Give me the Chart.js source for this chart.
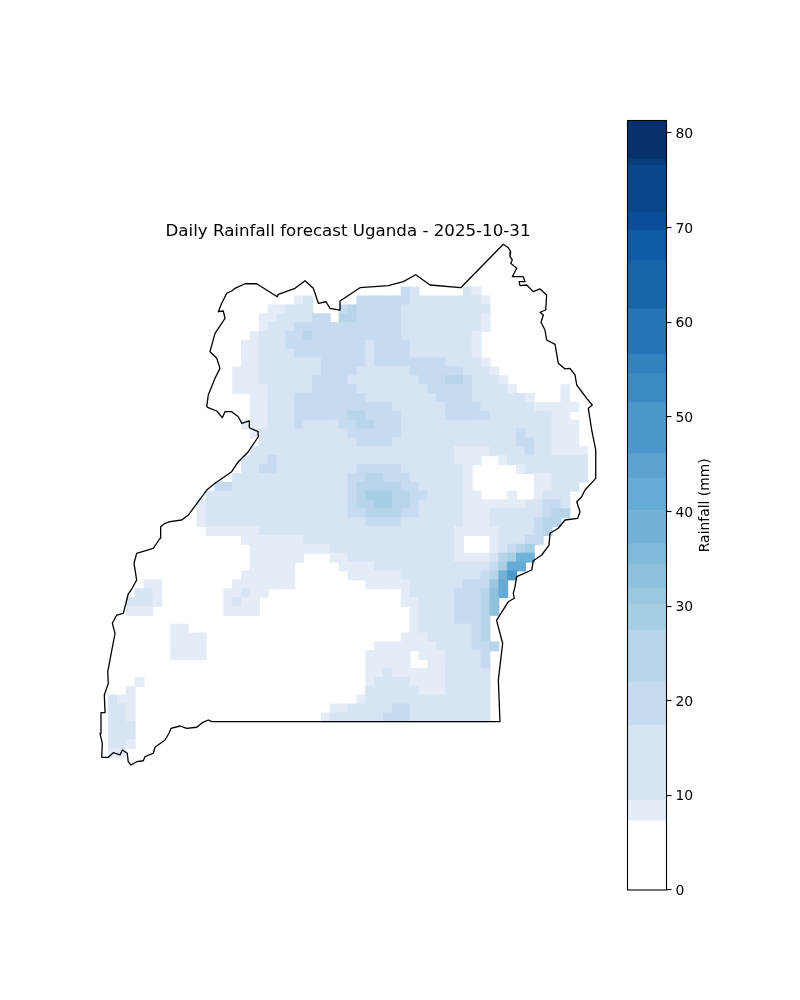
<!DOCTYPE html>
<html>
<head>
<meta charset="utf-8">
<script src="https://cdn.jsdelivr.net/npm/chart.js@4"></script>
<style>
html,body{margin:0;padding:0;background:#fff;width:800px;height:1000px;overflow:hidden}
canvas{position:absolute;display:block}
</style>
</head>
<body>
<canvas id="map" width="516" height="570" style="left:90px;top:220px;width:516px;height:570px"></canvas>
<canvas id="bar" width="140" height="810" style="left:600px;top:100px;width:140px;height:810px"></canvas>
<script>
const chartTitle = "Daily Rainfall forecast Uganda - 2025-10-31";
const colorbarLabel = "Rainfall (mm)";
const colorbarTicks = [0,10,20,30,40,50,60,70,80];

const levelEdges = [0,7.3,9.5,17.4,22,27.4,30.2,31.9,34.4,36.6,40.1,43.5,46.1,51.5,54.6,56.6,61.4,66.5,69.7,71.6,76.6,77.2,81.3];
const levelColors = ["#ffffff","#e3ecf7","#d6e4f3","#c6dbef","#b8d4e9","#a6cfe4","#9ac8e0","#8fc1dd","#80b9da","#72b2d9","#66abd6","#5ca3d2","#4c98ca","#3b8ac2","#3282be","#2574b7","#1865ac","#0f5aa4","#084e98","#08468b","#083c7a","#08306b"];

// Grid geometry (degrees) of the rainfall cells
const gridLon0 = 29.644, gridLat0 = 3.727, gridStep = 0.09856;

// Rainfall per grid row, north to south: "firstCol-lastCol:mm" runs; unlisted cells are below the first level
const rainRows = [
"33:20 34:13 40:13 41:8",
"21:8 22:13 28-33:20 34-41:13 42:8",
"18-19:8 20-22:13 26:20 27:25 28-32:20 33-42:13",
"17-18:8 19-22:13 23-24:20 26-27:25 28-32:20 33-41:13 42:8",
"17:8 18-20:13 21-32:20 33-41:13 42:8",
"16:8 17-19:13 20-21:20 22:25 23-32:20 33-40:13 41:8",
"15-16:8 17-19:13 20-28:20 29:13 30-33:20 34-40:13 41:8",
"15-16:8 17-20:13 21-28:20 29:13 30-33:20 34-40:13 41:8",
"15-16:8 17-23:13 24-28:20 29:13 30-37:20 38-41:13 42:8",
"14-16:8 17-23:13 24-27:20 28-33:13 34-39:20 40-42:13 43:8",
"14-16:8 17-22:13 23-26:20 27-34:13 35-37:20 38-39:25 40:20 41-43:13 44:8",
"14-17:8 18-22:13 23-27:20 28-35:13 36-40:20 41-44:13 45:8 51:8",
"16-17:8 18-20:13 21-28:20 29-36:13 37-40:20 41-46:13 47:8 51:8",
"16-17:8 18-20:13 21-31:20 32-37:13 38-41:20 42-47:13 48-52:8",
"16-17:8 18-20:13 21-26:20 27-28:25 29-32:20 33-37:13 38-42:20 43-49:13 50-51:8",
"15-17:8 18-20:13 21:20 22-25:13 26-27:20 28-29:25 30-32:20 33-49:13 50-52:8",
"16:8 17-26:13 27-32:20 33-45:13 46:20 47-49:13 50-52:8",
"17-27:13 28-31:20 32-45:13 46-47:20 48-49:13 50-52:8",
"16-38:13 39-42:8 43-46:13 47:20 48-49:13 50-53:8",
"15-17:13 18:20 19-38:13 39-41:8 44:8 45-53:13",
"15-16:13 17-18:20 19-27:13 28-32:20 33-39:13 40:8 46:8 47-53:13",
"14-26:13 27-28:20 29-30:25 31-33:20 34-39:13 40:8 48-49:8 50-53:13",
"12-13:20 14-26:13 27:20 28-32:25 33-34:20 35-39:13 40:8 48-49:8 50-52:13",
"11-26:13 27:20 28:25 29-31:29 32-33:25 34-35:20 36-39:13 40-41:8 45:8 48:8 49-51:13",
"10:8 11-26:13 27:20 28-29:25 30-31:29 32-33:25 34:20 35-39:13 40-46:8 47-48:13 49-50:20 51:13",
"10:8 11-26:13 27-28:20 29-32:25 33-34:20 35-39:13 40-42:8 43-48:13 49:20 50-51:25",
"10:8 11-28:13 29-32:20 33-39:13 40-42:8 43-47:13 48:20 49-50:25",
"11-16:8 17-38:13 39-43:8 44-47:13 48:20 49:25",
"15-21:8 22-38:13 39:8 43:8 44-46:13 47-48:20",
"16-24:8 25-38:13 39:8 43:8 44:13 45:20 46:25 47:29",
"16-21:8 25-26:8 27-38:13 39-42:8 43:13 44:25 45:29 46-47:38",
"16-20:8 26-29:8 30-42:13 43:20 44:29 45-46:42",
"15-20:8 27-32:8 33-41:13 42:20 43:25 44:38 45:49",
"4-5:8 14-20:8 29-33:8 34-39:13 40-42:20 43:31 44:42",
"3-4:13 5:8 13-14:8 15:13 16-17:8 33:8 34-38:13 39-41:20 42:25 43:33 44:42",
"2-4:13 5:8 13:8 14:13 15-16:8 33-34:8 35-38:13 39-41:20 42:25 43:33",
"2-4:8 13-16:8 34:8 35-38:13 39-41:20 42:25 43:33",
"34:8 35-38:13 39-41:20 42:25",
"7-8:8 34:8 35-40:13 41:20 42:25",
"7-10:8 33-35:8 36-40:13 41:20 42:25",
"7-10:8 30-36:8 37-40:13 41-42:20 43:25",
"7-10:8 29-33:8 35-37:8 38-41:13 42:20",
"29-33:8 36-37:8 38-41:13 42:20",
"29-30:8 31:13 32-37:8 38-42:13",
"3:8 29:8 30-33:13 34-37:8 38-42:13",
"2:8 29-34:13 35-37:8 38-42:13",
"0:13 1-2:8 28:8 29-42:13",
"0-1:13 2:8 25-26:8 27-31:13 32-33:20 34-42:13",
"0-1:13 2:8 24:8 25-30:13 31-33:20 34-42:13",
"0-2:13",
"0-2:13",
"0-1:13 2:8",
"0-1:8"
];

const boundaryLon = [31.259,31.256,31.159,31.159,31.074,31.037,30.963,30.889,30.859,30.797,30.703,30.686,30.703,30.778,30.833,30.797,30.722,30.778,30.889,30.870,30.814,30.852,30.908,30.963,31.000,31.111,31.241,31.470,31.481,31.667,31.778,31.870,31.926,32.011,32.056,32.167,32.167,32.389,32.703,32.870,33.008,33.167,33.508,33.981,34.037,34.063,34.056,34.081,34.063,34.130,34.081,34.203,34.222,34.156,34.167,34.241,34.314,34.389,34.463,34.452,34.389,34.426,34.400,34.444,34.463,34.556,34.592,34.667,34.722,34.778,34.797,34.908,34.970,34.926,34.963,35.008,35.008,34.889,34.852,34.797,34.833,34.808,34.667,34.592,34.500,34.489,34.408,34.314,34.297,34.130,34.111,34.092,34.103,34.037,33.906,33.974,33.926,33.944,30.741,30.703,30.637,30.574,30.463,30.389,30.289,30.267,30.222,30.111,30.092,30.000,29.981,29.908,29.844,29.814,29.803,29.748,29.722,29.648,29.592,29.519,29.526,29.500,29.511,29.556,29.548,29.592,29.586,29.667,29.637,29.686,29.759,29.814,29.852,29.907,29.878,29.907,30.092,30.167,30.174,30.222,30.278,30.408,30.481,30.686,30.778,30.963,31.037,31.148,31.259,31.259];
const boundaryLat = [2.133,2.170,2.214,2.289,2.263,2.337,2.392,2.392,2.326,2.400,2.437,2.448,2.578,2.763,2.874,2.986,3.059,3.263,3.430,3.511,3.503,3.597,3.708,3.733,3.763,3.814,3.814,3.670,3.697,3.763,3.848,3.763,3.597,3.614,3.541,3.522,3.622,3.770,3.792,3.837,3.914,3.800,3.770,4.252,4.214,4.170,4.114,4.078,4.041,3.986,3.892,3.892,3.837,3.837,3.792,3.800,3.726,3.756,3.689,3.522,3.497,3.467,3.386,3.300,3.189,3.141,2.930,2.867,2.874,2.800,2.689,2.541,2.467,2.430,2.189,1.967,1.652,1.522,1.448,1.392,1.281,1.208,1.189,1.097,1.041,0.911,0.800,0.737,0.633,0.559,0.448,0.374,0.319,0.281,0.073,-0.181,-0.589,-1.052,-1.052,-1.033,-1.063,-1.114,-1.126,-1.100,-1.126,-1.181,-1.256,-1.337,-1.403,-1.441,-1.486,-1.497,-1.533,-1.497,-1.403,-1.367,-1.422,-1.397,-1.448,-1.448,-1.292,-1.181,-0.952,-0.952,-0.756,-0.626,-0.497,-0.070,0.041,0.133,0.152,0.367,0.419,0.522,0.708,0.819,0.874,0.986,1.114,1.152,1.170,1.189,1.244,1.522,1.597,1.726,1.837,1.948,2.114,2.133];

const FONT = "'DejaVu Sans', sans-serif";

function colorFor(mm){
  for(let i=0;i<levelColors.length;i++){ if(mm<levelEdges[i+1]) return levelColors[i]; }
  return levelColors[levelColors.length-1];
}

const cells = [];
rainRows.forEach((row,r)=>{
  row.split(" ").forEach(run=>{
    const [span,mm] = run.split(":");
    const [a,b] = span.split("-").map(Number);
    for(let c=a;c<=(b===undefined?a:b);c++){
      cells.push({x:gridLon0+gridStep*c, y:gridLat0-gridStep*r, v:Number(mm)});
    }
  });
});

const cellColor = ctx=>colorFor(ctx.raw?ctx.raw.v:0);

new Chart(document.getElementById("map"),{
  type:"scatter",
  data:{datasets:[
    {label:"Boundary",order:1,clip:false,showLine:true,fill:false,tension:0,borderColor:"#000",borderWidth:1.3,borderJoinStyle:"round",pointRadius:0,
     data:boundaryLon.map((lon,i)=>({x:lon,y:boundaryLat[i]}))},
    {label:"Rainfall",order:2,clip:false,showLine:false,pointStyle:"rect",pointRadius:7.0,
     pointBorderWidth:0,pointBorderColor:cellColor,pointBackgroundColor:cellColor,data:cells}
  ]},
  options:{
    responsive:false,animation:false,devicePixelRatio:1,
    events:[],
    layout:{padding:{left:10,right:10,top:0,bottom:10}},
    plugins:{
      legend:{display:false},tooltip:{enabled:false},
      title:{display:true,text:chartTitle,color:"#000",font:{family:FONT,size:16.67,weight:"normal",lineHeight:18/16.67},padding:{top:3,bottom:-1}}
    },
    scales:{
      x:{type:"linear",display:false,min:29.5,max:35.011},
      y:{type:"linear",display:false,min:-1.7,max:4.3}
    }
  }
});

const colorbarFrame = {
  id:"colorbarFrame",
  afterDraw(chart){
    const {ctx,chartArea:a} = chart;
    ctx.save();
    ctx.strokeStyle="#000";ctx.lineWidth=1.1;
    ctx.strokeRect(a.left,a.top,a.right-a.left,a.bottom-a.top);
    ctx.fillStyle="#000";ctx.font="13.9px "+FONT;
    ctx.textAlign="center";ctx.textBaseline="middle";
    ctx.translate(105,(a.top+a.bottom)/2);ctx.rotate(-Math.PI/2);
    ctx.fillText(colorbarLabel,0,0);
    ctx.restore();
  }
};

new Chart(document.getElementById("bar"),{
  type:"bar",
  data:{labels:[""],datasets:levelColors.map((col,i)=>({
    label:"L"+i,data:[[levelEdges[i],levelEdges[i+1]]],backgroundColor:col,borderWidth:0,
    grouped:false,barPercentage:1,categoryPercentage:1
  }))},
  options:{
    responsive:false,animation:false,devicePixelRatio:1,events:[],
    layout:{padding:{left:27.5,right:0,top:20.5,bottom:20}},
    plugins:{legend:{display:false},tooltip:{enabled:false},title:{display:false}},
    scales:{
      x:{display:false},
      y:{position:"right",min:0,max:levelEdges[levelEdges.length-1],
        afterFit(s){s.width=73.5;},
        afterBuildTicks(s){s.ticks=colorbarTicks.map(v=>({value:v}));},
        border:{display:false},
        grid:{drawOnChartArea:false,drawTicks:true,tickLength:5,color:"#000",lineWidth:1.1},
        ticks:{color:"#000",padding:4,labelOffset:1.5,font:{family:FONT,size:13.9},autoSkip:false,maxRotation:0}
      }
    }
  },
  plugins:[colorbarFrame]
});
</script>
</body>
</html>
